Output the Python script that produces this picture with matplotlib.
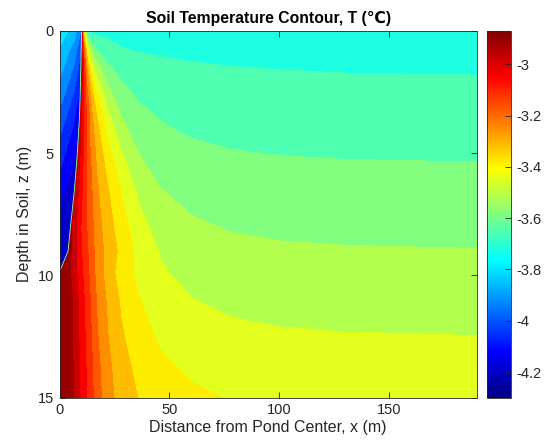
import numpy as np
import matplotlib
matplotlib.use("Agg")
import matplotlib.pyplot as plt
from matplotlib.colors import LinearSegmentedColormap, Normalize
from matplotlib.cm import ScalarMappable

plt.rcParams['font.family'] = ['Liberation Sans', 'DejaVu Sans']
plt.rcParams['axes.unicode_minus'] = False

# ---------------- data ----------------
T_MIN, T_MAX = -4.30, -2.87          # colour range (colorbar limits)
N_LEVELS = 22                        # contour levels from T_MIN to T_MAX
X_MAX, Z_MAX = 190.0, 15.0

# depth rows and the frozen/unfrozen boundary position at each row
z_rows = np.array([0, 0.3, 0.8, 1.5, 2.5, 3.5, 5, 6.5, 8, 9, 9.86, 11, 12.5, 13.8, 15])
b_rows = np.array([10, 9.95, 9.85, 9.7, 9.45, 9.1, 8.1, 6.8, 5.0, 3.9, 0, 0, 0, 0, 0])

# unfrozen soil: columns just right of the boundary (offsets) + fixed x columns
d_near = np.array([0, 0.7, 1.5, 3, 5.5])
x_far = np.array([17, 22, 28, 36, 46, 60, 78, 100, 130, 190])
T_out = np.array([
    [-2.900, -3.300, -3.580, -3.690, -3.700, -3.702, -3.706, -3.709, -3.712, -3.715, -3.717, -3.719, -3.720, -3.721, -3.722],
    [-2.950, -3.166, -3.396, -3.600, -3.672, -3.678, -3.688, -3.694, -3.700, -3.704, -3.708, -3.711, -3.713, -3.715, -3.716],
    [-2.955, -3.057, -3.227, -3.437, -3.587, -3.617, -3.665, -3.684, -3.690, -3.695, -3.699, -3.702, -3.704, -3.706, -3.707],
    [-2.960, -3.013, -3.113, -3.293, -3.473, -3.523, -3.608, -3.645, -3.663, -3.673, -3.681, -3.686, -3.689, -3.6915, -3.693],
    [-2.965, -3.004, -3.064, -3.184, -3.344, -3.414, -3.534, -3.599, -3.632, -3.649, -3.660, -3.666, -3.6695, -3.672, -3.674],
    [-2.965, -2.995, -3.045, -3.135, -3.265, -3.345, -3.465, -3.550, -3.600, -3.624, -3.638, -3.646, -3.650, -3.653, -3.655],
    [-2.955, -2.981, -3.016, -3.086, -3.196, -3.296, -3.391, -3.476, -3.551, -3.588, -3.606, -3.616, -3.621, -3.624, -3.626],
    [-2.945, -2.967, -2.997, -3.052, -3.147, -3.267, -3.342, -3.417, -3.497, -3.549, -3.573, -3.586, -3.5915, -3.595, -3.597],
    [-2.925, -2.943, -2.968, -3.018, -3.098, -3.248, -3.318, -3.383, -3.458, -3.513, -3.541, -3.556, -3.562, -3.566, -3.568],
    [-2.905, -2.919, -2.939, -2.984, -3.059, -3.239, -3.304, -3.364, -3.434, -3.489, -3.520, -3.536, -3.543, -3.5465, -3.549],
    [-2.874, -2.876, -2.881, -2.893, -2.948, -3.233, -3.313, -3.378, -3.433, -3.475, -3.503, -3.519, -3.5265, -3.5305, -3.533],
    [-2.872, -2.873, -2.877, -2.891, -2.931, -3.216, -3.291, -3.356, -3.411, -3.453, -3.481, -3.497, -3.5045, -3.5085, -3.511],
    [-2.871, -2.872, -2.876, -2.889, -2.927, -3.202, -3.277, -3.337, -3.387, -3.425, -3.451, -3.467, -3.475, -3.4792, -3.482],
    [-2.871, -2.872, -2.876, -2.889, -2.922, -3.187, -3.262, -3.319, -3.366, -3.401, -3.425, -3.442, -3.450, -3.454, -3.457],
    [-2.871, -2.872, -2.876, -2.886, -2.919, -3.179, -3.254, -3.306, -3.349, -3.380, -3.402, -3.419, -3.427, -3.431, -3.434],
])

# frozen zone under the pond (rows z_rows[:11]); columns at fractions of the boundary
f_in = np.array([0, 0.35, 0.7, 1.0])
T_in = np.array([
    [-3.78, -3.82, -3.87, -3.97],
    [-3.80, -3.84, -3.89, -3.99],
    [-3.83, -3.875, -3.93, -4.03],
    [-3.865, -3.915, -3.97, -4.065],
    [-3.92, -3.97, -4.03, -4.11],
    [-3.98, -4.03, -4.08, -4.15],
    [-4.06, -4.10, -4.14, -4.18],
    [-4.13, -4.16, -4.18, -4.21],
    [-4.18, -4.20, -4.21, -4.22],
    [-4.20, -4.21, -4.22, -4.22],
    [-4.21, -4.21, -4.21, -4.21],
])

x_ticks = [0, 50, 100, 150]
z_ticks = [0, 5, 10, 15]
cb_ticks = [-4.2, -4.0, -3.8, -3.6, -3.4, -3.2, -3.0]

# ---------------- MATLAB style jet ----------------
jet = LinearSegmentedColormap('mjet', {
    'red':   [(0, 0, 0), (0.375, 0, 0), (0.625, 1, 1), (0.875, 1, 1), (1, 0.5, 0.5)],
    'green': [(0, 0, 0), (0.125, 0, 0), (0.375, 1, 1), (0.625, 1, 1), (0.875, 0, 0), (1, 0, 0)],
    'blue':  [(0, 0.5, 0.5), (0.125, 1, 1), (0.375, 1, 1), (0.625, 0, 0), (1, 0, 0)],
}, N=256)
norm = Normalize(vmin=T_MIN, vmax=T_MAX)
levels = np.linspace(T_MIN, T_MAX, N_LEVELS)

# grids
n_rows = len(z_rows)
X_out = np.column_stack([b_rows[:, None] + d_near[None, :], np.tile(x_far, (n_rows, 1))])
Z_out = np.repeat(z_rows[:, None], X_out.shape[1], axis=1)
n_in = T_in.shape[0]
X_in = b_rows[:n_in, None] * f_in[None, :]
Z_in = np.repeat(z_rows[:n_in, None], len(f_in), axis=1)

txt = '#262626'
fig = plt.figure(figsize=(5.46, 4.41), dpi=100)
ax = fig.add_axes([0.109, 0.098, 0.764, 0.832])
ax.contourf(X_out, Z_out, T_out, levels=levels, cmap=jet, norm=norm)
ax.contourf(X_in, Z_in, T_in, levels=levels, cmap=jet, norm=norm)
# thin interpolation seam along the freezing front
ax.plot(b_rows[:n_in], z_rows[:n_in], color='#b8ff80', lw=0.6, zorder=3)

ax.set_xlim(0, X_MAX)
ax.set_ylim(Z_MAX, 0)
ax.set_xticks(x_ticks)
ax.set_yticks(z_ticks)
ax.tick_params(direction='in', top=True, right=True, length=4, width=0.6,
               colors=txt, labelsize=10.5, pad=4)
for s in ax.spines.values():
    s.set_color('#262626')
    s.set_linewidth(0.6)
    s.set_zorder(4)
ax.set_xlabel('Distance from Pond Center, x (m)', fontsize=11.5, color=txt, labelpad=2)
ax.set_ylabel('Depth in Soil, z (m)', fontsize=11.5, color=txt, labelpad=4)
ax.set_title('Soil Temperature Contour, T (\u2103)', fontsize=11.3, fontweight='bold',
             color='black', pad=6, family=['Liberation Sans', 'DejaVu Sans'])

cax = fig.add_axes([0.8925, 0.098, 0.044, 0.832])
sm = ScalarMappable(norm=norm, cmap=jet)
cb = fig.colorbar(sm, cax=cax, ticks=cb_ticks)
cb.ax.set_yticklabels(['%g' % t for t in cb_ticks])
cb.ax.tick_params(direction='in', length=4, width=0.6, colors=txt, labelsize=10.5)
cb.outline.set_edgecolor('#262626')
cb.outline.set_linewidth(0.6)

fig.savefig('out.png', dpi=100)
